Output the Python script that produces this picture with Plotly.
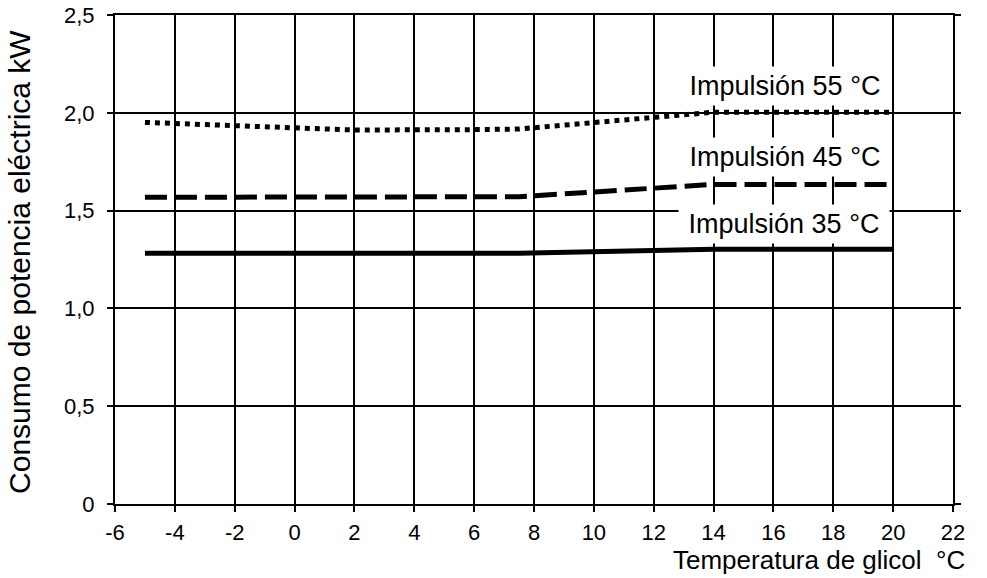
import plotly.graph_objects as go

# Glycol temperature (°C) vs electrical power consumption (kW) per flow temperature
x_35 = [-5, 7.5, 14, 20]
y_35 = [1.282, 1.282, 1.303, 1.303]

x_45 = [-5, 7.5, 14, 20]
y_45 = [1.568, 1.571, 1.634, 1.634]

x_55 = [-5, -2, 0, 2, 6, 7.5, 14, 20]
y_55 = [1.951, 1.934, 1.920, 1.912, 1.914, 1.917, 2.003, 2.003]

labels = ["Impulsión 35 °C", "Impulsión 45 °C", "Impulsión 55 °C"]

x_ticks = [-6, -4, -2, 0, 2, 4, 6, 8, 10, 12, 14, 16, 18, 20, 22]
y_ticks = [0, 0.5, 1.0, 1.5, 2.0, 2.5]
y_tick_text = ["0", "0,5", "1,0", "1,5", "2,0", "2,5"]

FONT = "Liberation Sans, Arial, sans-serif"

fig = go.Figure()
fig.add_trace(go.Scatter(x=x_35, y=y_35, mode="lines",
                         line=dict(color="black", width=5)))
fig.add_trace(go.Scatter(x=x_45, y=y_45, mode="lines",
                         line=dict(color="black", width=5, dash="22px,8px")))
fig.add_trace(go.Scatter(x=x_55, y=y_55, mode="lines",
                         line=dict(color="black", width=5, dash="5px,5px")))

# curve labels on white boxes
label_pos = [(16.35, 1.431), (16.4, 1.773), (16.4, 2.135)]
for (lx, ly), txt in zip(label_pos, labels):
    fig.add_annotation(x=lx, y=ly, xref="x", yref="y", text=txt, showarrow=False,
                       xanchor="center", yanchor="middle", bgcolor="white",
                       width=204, height=32, borderpad=3,
                       font=dict(family=FONT, size=27, color="black"))

# axis titles
fig.add_annotation(x=1.0167, y=-0.114, xref="paper", yref="paper",
                   text="Temperatura de glicol\u00a0 °C", showarrow=False,
                   xanchor="right", yanchor="middle",
                   font=dict(family=FONT, size=26, color="black"))
fig.add_annotation(x=-0.1134, y=0.495, xref="paper", yref="paper",
                   text="Consumo de potencia eléctrica kW", showarrow=False,
                   textangle=-90, xanchor="center", yanchor="middle",
                   font=dict(family=FONT, size=30, color="black"))

fig.update_xaxes(range=[-6, 22], tickvals=x_ticks, ticktext=[str(v) for v in x_ticks],
                 showgrid=True, gridcolor="black", gridwidth=2,
                 showline=True, linecolor="black", linewidth=2, mirror=True,
                 ticks="outside", ticklen=6, tickwidth=2, tickcolor="black",
                 zeroline=False, ticklabelstandoff=2, automargin=False,
                 tickfont=dict(family=FONT, size=22, color="black"))
fig.update_yaxes(range=[0, 2.5], tickvals=y_ticks, ticktext=y_tick_text,
                 showgrid=True, gridcolor="black", gridwidth=2,
                 showline=True, linecolor="black", linewidth=2, mirror="ticks",
                 ticks="outside", ticklen=6, tickwidth=2, tickcolor="black",
                 zeroline=False, ticklabelstandoff=8, automargin=False,
                 tickfont=dict(family=FONT, size=22, color="black"))

fig.update_layout(width=987, height=578, showlegend=False,
                  margin=dict(l=115, r=34, t=15, b=74),
                  paper_bgcolor="white", plot_bgcolor="white")

fig.write_html("out.html")
